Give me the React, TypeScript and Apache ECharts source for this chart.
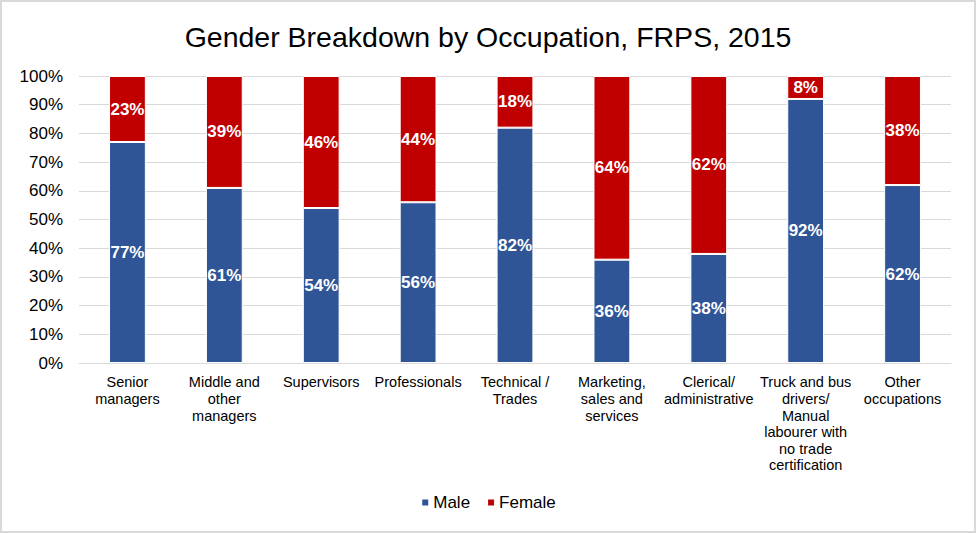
import React, { useEffect, useRef } from "react";
import * as echarts from "echarts";

const categories = [
  "Senior\nmanagers",
  "Middle and\nother\nmanagers",
  "Supervisors",
  "Professionals",
  "Technical /\nTrades",
  "Marketing,\nsales and\nservices",
  "Clerical/\nadministrative",
  "Truck and bus\ndrivers/\nManual\nlabourer with\nno trade\ncertification",
  "Other\noccupations",
];
const maleValues = [77, 61, 54, 56, 82, 36, 38, 92, 62];
const femaleValues = [23, 39, 46, 44, 18, 64, 62, 8, 38];
const yTicks = { min: 0, max: 100, interval: 10 };

const FONT = "Arial, 'Liberation Sans', Helvetica, sans-serif";

export default function App() {
  const ref = useRef<HTMLDivElement>(null);
  useEffect(() => {
    if (!ref.current) return;
    const chart = echarts.init(ref.current, undefined, { renderer: "svg" });
    const labelStyle = {
      show: true,
      position: "inside" as const,
      color: "#ffffff",
      fontWeight: "bold" as const,
      fontSize: 17,
      fontFamily: FONT,
      formatter: (p: any) => `${p.value}%`,
    };
    chart.setOption({
      animation: false,
      backgroundColor: "#ffffff",
      textStyle: { fontFamily: FONT },
      title: {
        text: "Gender Breakdown by Occupation, FRPS, 2015",
        left: "center",
        top: 17,
        textStyle: { fontFamily: FONT, fontSize: 28.5, fontWeight: "normal", color: "#000000" },
      },
      legend: {
        bottom: 17,
        left: "center",
        itemWidth: 8,
        itemHeight: 8,
        itemGap: 16,
        icon: "rect",
        textStyle: { fontFamily: FONT, fontSize: 17, color: "#000000", padding: [0, 0, 0, -1] },
        data: ["Male", "Female"],
      },
      grid: { left: 79, right: 25, top: 76, bottom: 170, containLabel: false },
      xAxis: {
        type: "category",
        data: categories,
        axisTick: { show: false },
        axisLine: { lineStyle: { color: "#d9d9d9", width: 1 } },
        axisLabel: {
          interval: 0,
          margin: 11,
          fontFamily: FONT,
          fontSize: 14.5,
          lineHeight: 16.6,
          color: "#000000",
          align: "center",
        },
      },
      yAxis: {
        type: "value",
        min: yTicks.min,
        max: yTicks.max,
        interval: yTicks.interval,
        axisLine: { show: false },
        axisTick: { show: false },
        splitLine: { lineStyle: { color: "#d9d9d9", width: 1 } },
        axisLabel: {
          formatter: "{value}%",
          fontFamily: FONT,
          fontSize: 17,
          color: "#000000",
          margin: 16,
        },
      },
      series: [
        {
          name: "Male",
          type: "bar",
          stack: "total",
          data: maleValues,
          barWidth: "38%",
          itemStyle: { color: "#2F5597", borderColor: "#ffffff", borderWidth: 1 },
          label: labelStyle,
        },
        {
          name: "Female",
          type: "bar",
          stack: "total",
          data: femaleValues,
          barWidth: "38%",
          itemStyle: { color: "#C00000", borderColor: "#ffffff", borderWidth: 1 },
          label: labelStyle,
        },
      ],
      graphic: [
        {
          type: "rect",
          shape: { x: 1, y: 1, width: 974, height: 531 },
          style: { fill: "none", stroke: "#d9d9d9", lineWidth: 2 },
          silent: true,
          z: 100,
        },
      ],
    });
    return () => chart.dispose();
  }, []);
  return (
    <div
      ref={ref}
      style={{ position: "absolute", left: 0, top: 0, width: 976, height: 533 }}
    />
  );
}
